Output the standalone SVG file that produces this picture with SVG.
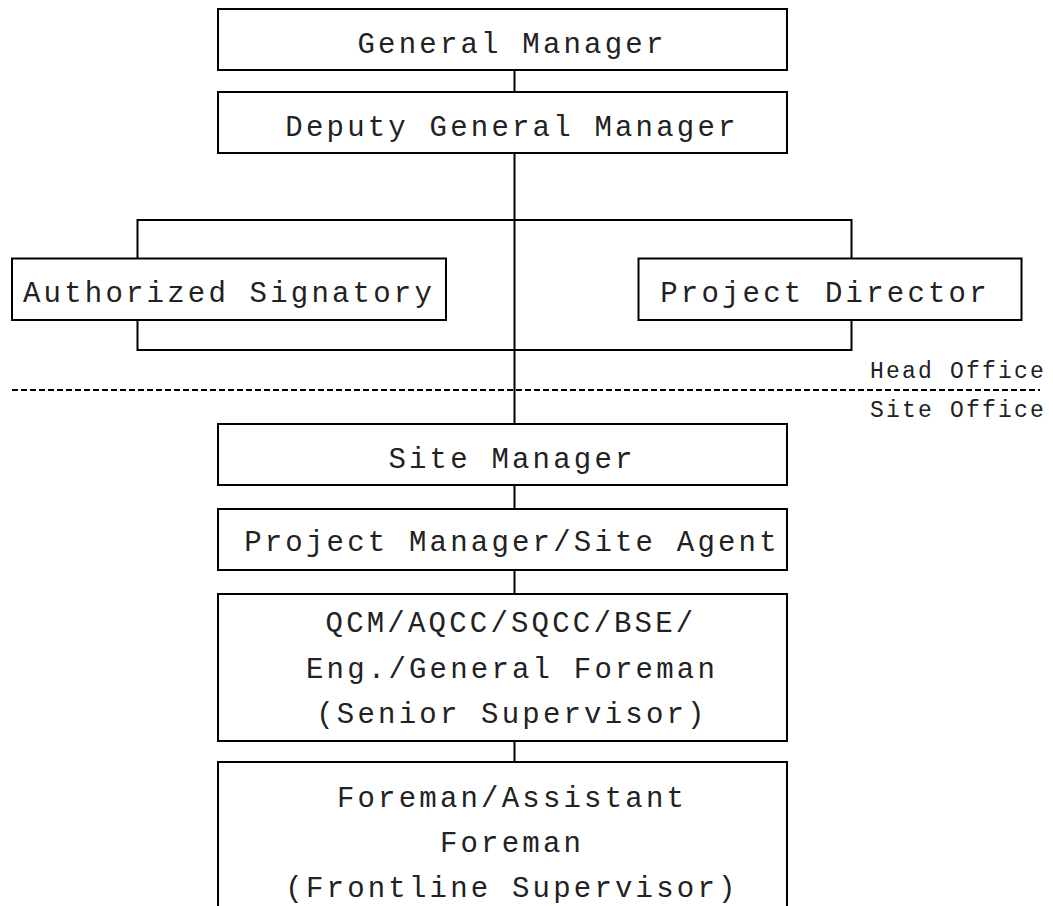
<svg xmlns="http://www.w3.org/2000/svg" width="1053" height="906" viewBox="0 0 1053 906">
<style>
.box{fill:#fff;stroke:#000;stroke-width:2}
.t{font-family:"Liberation Mono","DejaVu Sans Mono",monospace;font-size:29px;letter-spacing:3.2px;fill:#222;text-anchor:middle}
.s{font-family:"Liberation Mono","DejaVu Sans Mono",monospace;font-size:23px;letter-spacing:2.2px;fill:#222}
.c{fill:none;stroke:#000;stroke-width:2}
.d{fill:none;stroke:#000;stroke-width:2;stroke-dasharray:6 3}
</style>
<rect width="1053" height="906" fill="#fff"/>
<g id="connectors">
<path class="c" d="M514.5,70V92M514.5,153V424M514.5,485V509M514.5,570V594M514.5,741V762"/>
<path class="c" d="M137.5,258.5V220H851.5V258.5M137.5,320V350H851.5V320"/>
<path class="d" d="M12,390H1040"/>
</g>
<g id="gm"><rect class="box" x="218" y="9" width="569" height="61"/><text class="t" x="512" y="53">General Manager</text></g>
<g id="dgm"><rect class="box" x="218" y="92" width="569" height="61"/><text class="t" x="512" y="136">Deputy General Manager</text></g>
<g id="as"><rect class="box" x="12" y="258.5" width="434" height="61.5"/><text class="t" x="229" y="302">Authorized Signatory</text></g>
<g id="pd"><rect class="box" x="638.5" y="258.5" width="383" height="61.5"/><text class="t" x="825" y="302">Project Director</text></g>
<g id="labels"><text class="s" x="870" y="378">Head Office</text><text class="s" x="870" y="417">Site Office</text></g>
<g id="sm"><rect class="box" x="218" y="424" width="569" height="61"/><text class="t" x="512" y="468">Site Manager</text></g>
<g id="pm"><rect class="box" x="218" y="509" width="569" height="61"/><text class="t" x="512" y="551">Project Manager/Site Agent</text></g>
<g id="qcm"><rect class="box" x="218" y="594" width="569" height="147"/>
<text class="t" x="511" y="632">QCM/AQCC/SQCC/BSE/</text>
<text class="t" x="512" y="678">Eng./General Foreman</text>
<text class="t" x="512" y="723">(Senior Supervisor)</text></g>
<g id="fm"><rect class="box" x="218" y="762" width="569" height="170"/>
<text class="t" x="512" y="807">Foreman/Assistant</text>
<text class="t" x="512" y="852">Foreman</text>
<text class="t" x="512" y="897">(Frontline Supervisor)</text></g>
</svg>
